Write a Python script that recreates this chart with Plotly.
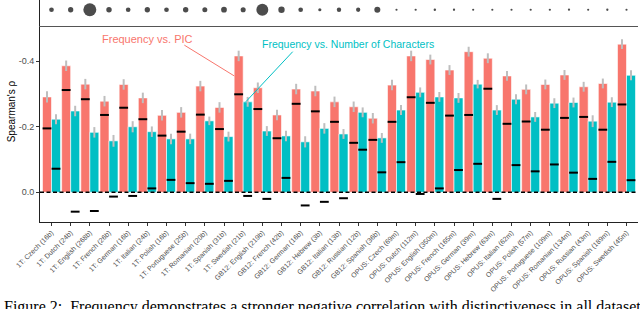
import numpy as np
import plotly.graph_objects as go

labels = [
    "1T: Czech (16b)", "1T: Dutch (24b)", "1T: English (268b)", "1T: French (26b)",
    "1T: German (16b)", "1T: Italian (24b)", "1T: Polish (16b)", "1T: Portuguese (25b)",
    "1T: Romanian (20b)", "1T: Spanish (31b)", "1T: Swedish (21b)", "GB12: English (219b)",
    "GB12: French (42b)", "GB12: German (16b)", "GB12: Hebrew (3b)", "GB12: Italian (13b)",
    "GB12: Russian (12b)", "GB12: Spanish (36b)", "OPUS: Czech (69m)", "OPUS: Dutch (112m)",
    "OPUS: English (350m)", "OPUS: French (165m)", "OPUS: German (39m)", "OPUS: Hebrew (63m)",
    "OPUS: Italian (62m)", "OPUS: Polish (57m)", "OPUS: Portuguese (109m)", "OPUS: Romanian (134m)",
    "OPUS: Russian (43m)", "OPUS: Spanish (189m)", "OPUS: Swedish (45m)",
]
corpus_size_b = [16, 24, 268, 26, 16, 24, 16, 25, 20, 31, 21, 219, 42, 16, 3, 13, 12, 36,
                 0.069, 0.112, 0.350, 0.165, 0.039, 0.063, 0.062, 0.057, 0.109, 0.134,
                 0.043, 0.189, 0.045]

freq_pic = [-0.291, -0.386, -0.330, -0.278, -0.329, -0.288, -0.235, -0.244, -0.324, -0.259,
            -0.416, -0.319, -0.236, -0.315, -0.309, -0.276, -0.261, -0.226, -0.327, -0.416,
            -0.405, -0.373, -0.429, -0.409, -0.355, -0.314, -0.329, -0.358, -0.322, -0.332,
            -0.452]
freq_pic_err = [0.017, 0.016, 0.016, 0.016, 0.016, 0.016, 0.016, 0.016, 0.016, 0.016,
                0.016, 0.016, 0.016, 0.016, 0.016, 0.016, 0.016, 0.016, 0.016, 0.016,
                0.015, 0.015, 0.015, 0.015, 0.015, 0.015, 0.015, 0.015, 0.015, 0.015,
                0.015]
freq_chars = [-0.223, -0.248, -0.183, -0.157, -0.200, -0.185, -0.163, -0.163, -0.218, -0.170,
              -0.276, -0.187, -0.172, -0.154, -0.195, -0.178, -0.244, -0.166, -0.251, -0.305,
              -0.291, -0.288, -0.330, -0.251, -0.284, -0.230, -0.272, -0.274, -0.217, -0.275,
              -0.357]
freq_chars_err = [0.015, 0.016, 0.016, 0.018, 0.017, 0.016, 0.016, 0.016, 0.013, 0.015,
                  0.015, 0.015, 0.016, 0.017, 0.016, 0.015, 0.015, 0.015, 0.015, 0.015,
                  0.015, 0.015, 0.013, 0.015, 0.015, 0.015, 0.015, 0.015, 0.018, 0.015,
                  0.015]
pic_control = [-0.195, -0.312, -0.284, -0.236, -0.258, -0.223, -0.173, -0.185, -0.237, -0.193,
               -0.299, -0.254, -0.165, -0.270, -0.247, -0.215, -0.151, -0.160, -0.215, -0.290,
               -0.273, -0.234, -0.236, -0.316, -0.209, -0.216, -0.191, -0.227, -0.230, -0.191,
               -0.268]
chars_control = [-0.072, 0.059, 0.057, 0.013, 0.011, -0.012, -0.038, -0.028, -0.026, -0.035,
                 0.011, 0.020, -0.044, 0.040, 0.029, 0.018, -0.130, -0.061, -0.092, 0.005,
                 -0.012, -0.068, -0.087, 0.020, -0.083, -0.064, -0.085, -0.060, -0.041, -0.093,
                 -0.037]
y_ticks = [-0.4, -0.2, 0.0]
y_ticktext = ["-0.4", "-0.2", "0.0"]

RED = "#F8766D"
TEAL = "#00BFC4"
FONT = "Liberation Sans, Arial, sans-serif"

idx = np.arange(len(labels))
off = 0.235
bw = 0.47

fig = go.Figure()

# top panel: corpus size dots
dot_sizes = [2 + 11 * np.sqrt(s / max(corpus_size_b)) for s in corpus_size_b]
fig.add_trace(go.Scatter(x=idx, y=[0] * len(idx), mode="markers", xaxis="x2", yaxis="y2",
                         marker=dict(size=dot_sizes, color="black", line=dict(width=0)),
                         cliponaxis=False, showlegend=False))

fig.add_trace(go.Bar(x=idx - off, y=freq_pic, width=bw,
                     marker=dict(color=RED, line=dict(color="white", width=0.6)),
                     error_y=dict(type="data", array=freq_pic_err, color="#BEBEBE",
                                  thickness=2, width=0),
                     showlegend=False))
fig.add_trace(go.Bar(x=idx + off, y=freq_chars, width=bw,
                     marker=dict(color=TEAL, line=dict(color="white", width=0.6)),
                     error_y=dict(type="data", array=freq_chars_err, color="#BEBEBE",
                                  thickness=2, width=0),
                     showlegend=False))
fig.add_trace(go.Scatter(x=idx - off, y=pic_control, mode="markers",
                         marker=dict(symbol="line-ew", size=6.3,
                                     line=dict(color="black", width=2)),
                         showlegend=False))
fig.add_trace(go.Scatter(x=idx + off, y=chars_control, mode="markers",
                         marker=dict(symbol="line-ew", size=6.3,
                                     line=dict(color="black", width=2)),
                         showlegend=False))

xr = [-0.6, len(labels) - 0.4]
fig.update_layout(
    width=640, height=309,
    margin=dict(l=40, r=2, t=0, b=87),
    paper_bgcolor="white", plot_bgcolor="white",
    barmode="overlay",
    font=dict(family=FONT),
    xaxis=dict(domain=[0, 1], range=xr, anchor="y", tickmode="array", tickvals=idx,
               ticktext=labels, tickangle=-45, tickfont=dict(size=7, color="#4D4D4D"),
               showline=True, linecolor="#222", linewidth=1, ticks="outside",
               ticklen=3, tickcolor="#333", showgrid=False, zeroline=False),
    yaxis=dict(domain=[0, 0.878], range=[0.0905, -0.504], anchor="x", tickmode="array",
               tickvals=y_ticks, ticktext=y_ticktext, tickfont=dict(size=9, color="#4D4D4D"),
               showline=True, linecolor="#222", linewidth=1, ticks="outside", ticklen=3,
               tickcolor="#333", showgrid=False, zeroline=False),
    xaxis2=dict(domain=[0, 1], range=xr, anchor="y2", showticklabels=False, ticks="",
                showline=True, linecolor="#555", linewidth=1.2, showgrid=False,
                zeroline=False),
    yaxis2=dict(domain=[0.883, 1], range=[-1, 0.6], anchor="x2", showticklabels=False,
                ticks="", showline=True, linecolor="#222", linewidth=1, showgrid=False,
                zeroline=False),
)

# zero reference line
fig.add_shape(type="line", xref="x domain", yref="y", x0=0, x1=1, y0=0, y1=0,
              line=dict(color="black", width=1.6, dash="4px,2.5px"))

# annotation leader lines
fig.add_shape(type="line", xref="x", yref="y", x0=6.93, y0=-0.449, x1=10 - 2 * off + 0.005,
              y1=-0.355, line=dict(color=RED, width=1))
fig.add_shape(type="line", xref="x", yref="y", x0=12.585, y0=-0.429, x1=10 + off - 0.1,
              y1=freq_chars[10], line=dict(color=TEAL, width=1))

fig.add_annotation(x=5.02, y=-0.469, xref="x", yref="y", text="Frequency vs. PIC",
                   showarrow=False, font=dict(size=11, color=RED, family=FONT))
fig.add_annotation(x=15.49, y=-0.452, xref="x", yref="y",
                   text="Frequency vs. Number of Characters",
                   showarrow=False, font=dict(size=10.5, color=TEAL, family=FONT))

fig.add_annotation(xref="paper", yref="paper", x=-0.048, y=0.5, text="Spearman's ρ",
                   textangle=-90, showarrow=False, xanchor="center", yanchor="middle",
                   font=dict(size=10, color="black", family=FONT))

fig.add_annotation(xref="paper", yref="paper", x=-0.064, y=-0.334, xanchor="left",
                   yanchor="top", showarrow=False,
                   text="Figure 2:  Frequency demonstrates a stronger negative correlation with distinctiveness in all datasets",
                   font=dict(size=16, color="black", family="Liberation Serif, Times New Roman, serif"))

fig.write_html("out.html", config={"displayModeBar": False},
               post_script="document.body.style.margin='0';")
